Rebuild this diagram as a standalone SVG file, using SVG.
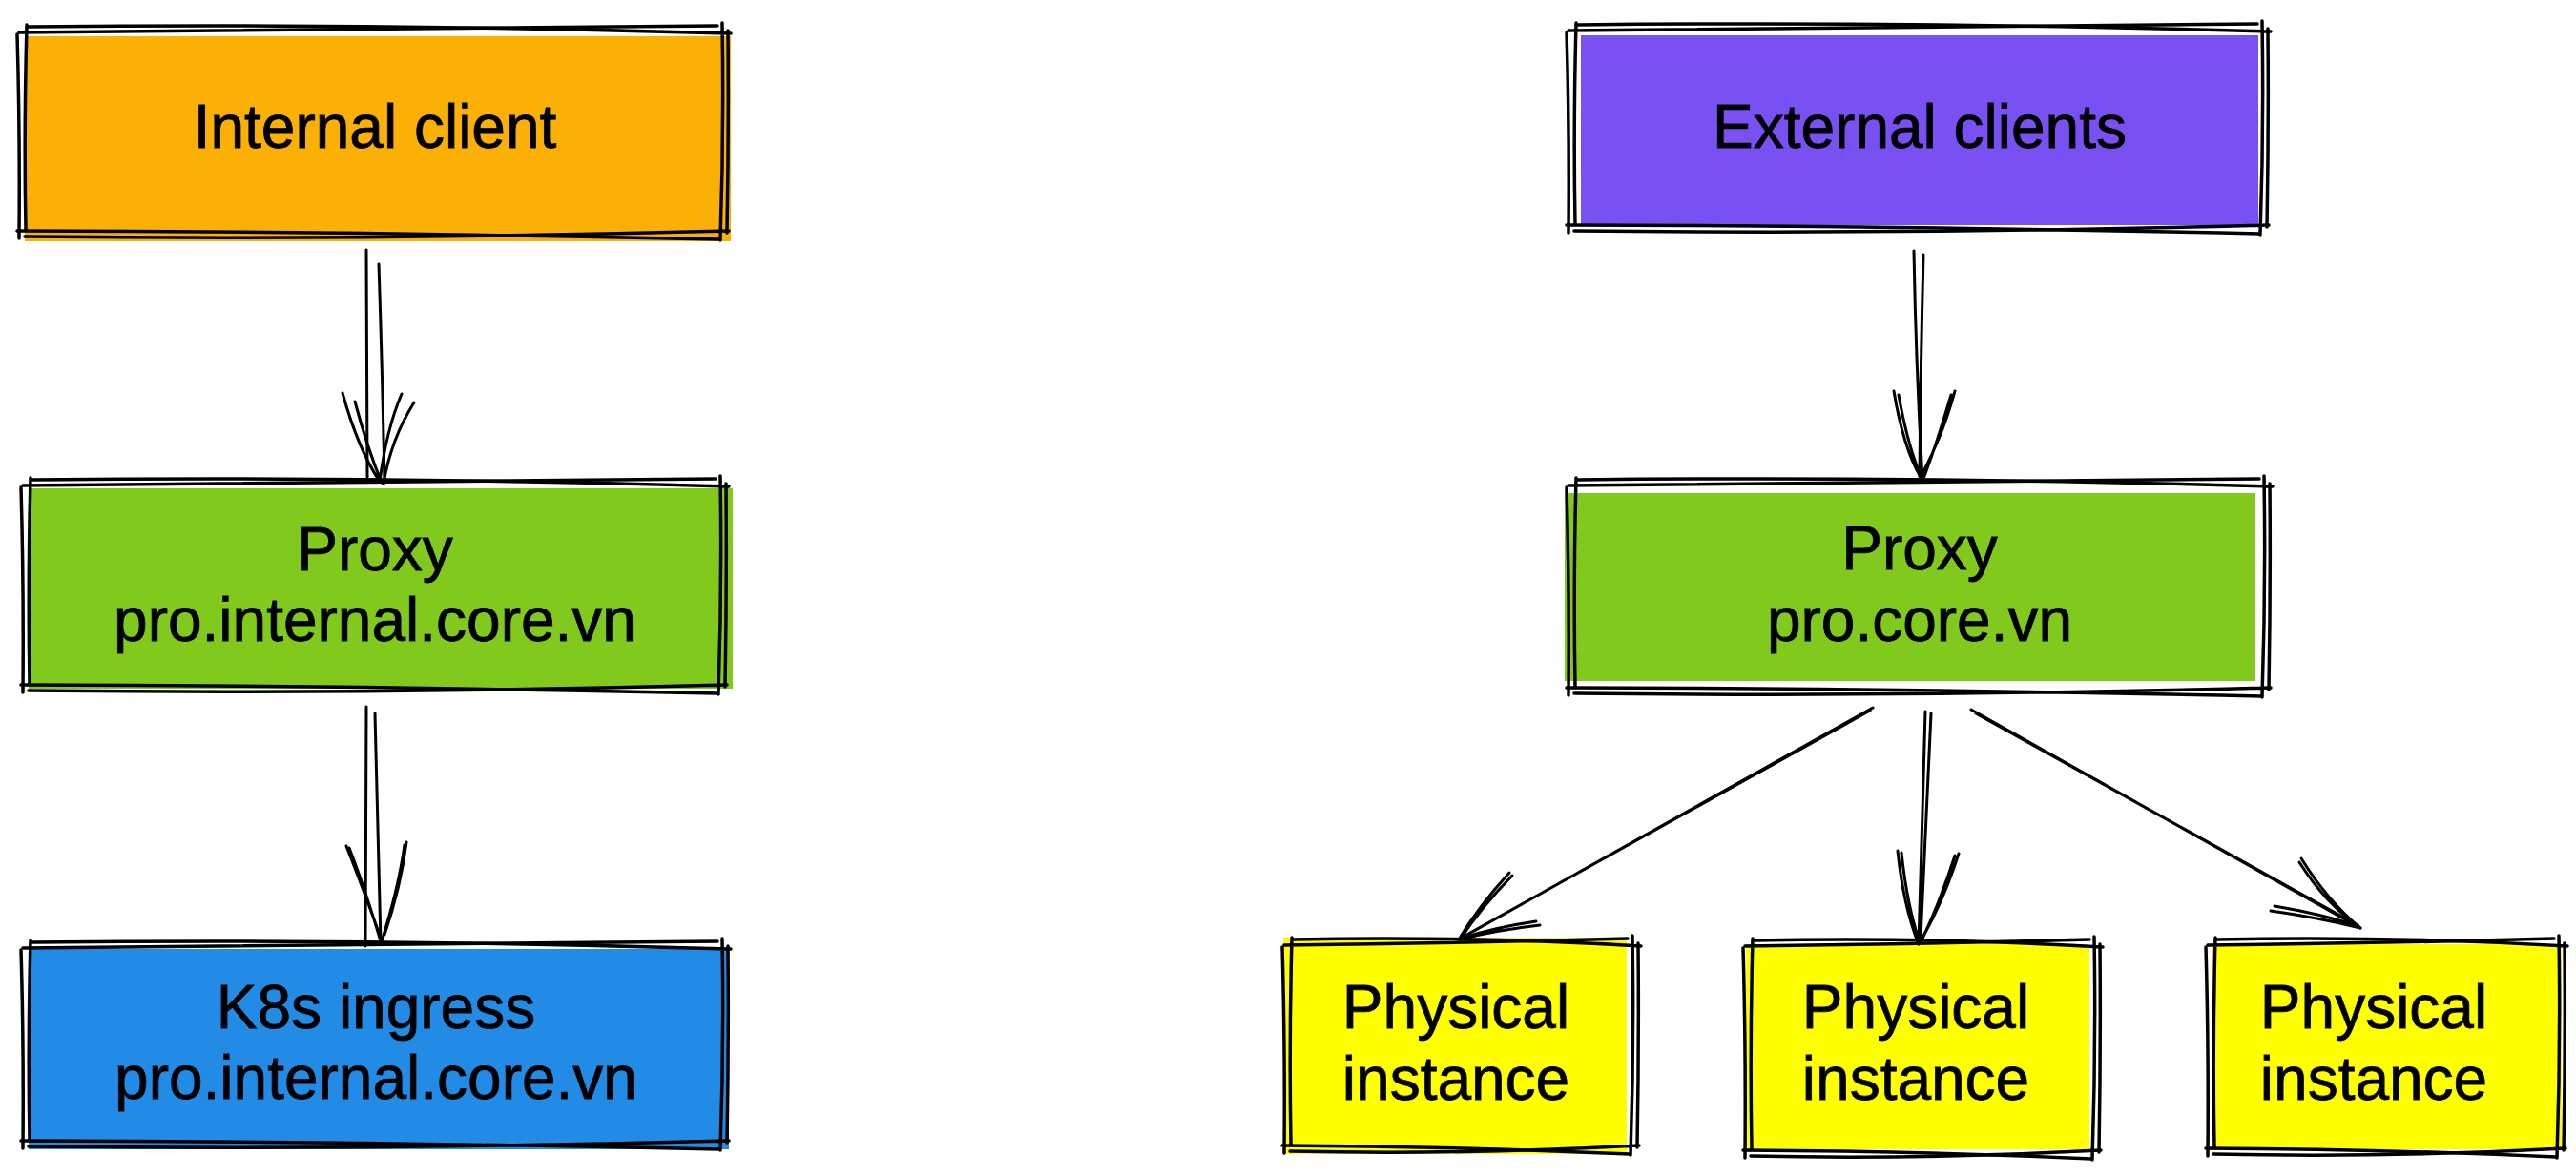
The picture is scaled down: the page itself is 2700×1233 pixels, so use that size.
<svg xmlns="http://www.w3.org/2000/svg" width="2700" height="1233" viewBox="0 0 2700 1233">
<style>
.edge{fill:none;stroke:#000;stroke-width:3.5;stroke-linecap:round;stroke-linejoin:round}
.conn path{fill:none;stroke:#000;stroke-width:3;stroke-linecap:round;stroke-linejoin:round}
.lbl{font-family:"Liberation Sans",Arial,sans-serif;font-size:64px;fill:#000;stroke:#000;stroke-width:0.8;text-anchor:middle}
</style>
<rect width="2700" height="1233" fill="#fff"/>
<g id="internal-client">
<rect x="26" y="38" width="740" height="215" fill="#fab005"/>
<path class="edge" d="M30 28 Q392 24 766 35 M757 24 Q759 138 755 252 M764 242 Q392 252 26 248 M20 250 Q21 138 18 36"/>
<path class="edge" d="M20 34 Q392 32 752 27 M763 32 Q764 138 762 244 M754 251 Q392 243 18 242 M27 240 Q25 138 28 26"/>
<text class="lbl" x="393" y="155">Internal client</text>
</g>
<g id="external-clients">
<rect x="1657" y="37" width="710" height="199" fill="#7950f2"/>
<path class="edge" d="M1654 26 Q2011 22 2380 33 M2371 22 Q2373 134 2369 246 M2378 236 Q2011 246 1650 242 M1644 244 Q1645 134 1642 34"/>
<path class="edge" d="M1644 32 Q2011 30 2366 25 M2377 30 Q2378 134 2376 238 M2368 245 Q2011 237 1642 236 M1651 234 Q1649 134 1652 24"/>
<text class="lbl" x="2012" y="155">External clients</text>
</g>
<g id="proxy-internal">
<rect x="30" y="512" width="738" height="210" fill="#82c91e"/>
<path class="edge" d="M34 503 Q393 499 764 510 M755 499 Q757 614 753 728 M762 718 Q393 728 30 724 M24 726 Q25 614 22 511"/>
<path class="edge" d="M24 509 Q393 507 750 502 M761 507 Q762 614 760 720 M752 727 Q393 719 22 718 M31 716 Q29 614 32 501"/>
<text class="lbl" x="393" y="598">Proxy</text>
<text class="lbl" x="393" y="672">pro.internal.core.vn</text>
</g>
<g id="proxy-external">
<rect x="1640" y="517" width="724" height="197" fill="#82c91e"/>
<path class="edge" d="M1654 503 Q2012 499 2382 510 M2373 499 Q2375 615 2371 731 M2380 721 Q2012 731 1650 727 M1644 729 Q1645 615 1642 511"/>
<path class="edge" d="M1644 509 Q2012 507 2368 502 M2379 507 Q2380 615 2378 723 M2370 730 Q2012 722 1642 721 M1651 719 Q1649 615 1652 501"/>
<text class="lbl" x="2012" y="597">Proxy</text>
<text class="lbl" x="2012" y="672">pro.core.vn</text>
</g>
<g id="k8s-ingress">
<rect x="30" y="995" width="734" height="210" fill="#228be6"/>
<path class="edge" d="M34 988 Q394 984 766 995 M757 984 Q759 1095 755 1206 M764 1196 Q394 1206 30 1202 M24 1204 Q25 1095 22 996"/>
<path class="edge" d="M24 994 Q394 992 752 987 M763 992 Q764 1095 762 1198 M754 1205 Q394 1197 22 1196 M31 1194 Q29 1095 32 986"/>
<text class="lbl" x="394" y="1078">K8s ingress</text>
<text class="lbl" x="394" y="1152">pro.internal.core.vn</text>
</g>
<g id="physical-1">
<rect x="1345" y="983" width="360" height="227" fill="#ffff00"/>
<path class="edge" d="M1356 985 Q1532 981 1720 992 M1711 981 Q1713 1096 1709 1211 M1718 1201 Q1532 1211 1352 1207 M1346 1209 Q1347 1096 1344 993"/>
<path class="edge" d="M1346 991 Q1532 989 1706 984 M1717 989 Q1718 1096 1716 1203 M1708 1210 Q1532 1202 1344 1201 M1353 1199 Q1351 1096 1354 983"/>
<text class="lbl" x="1526" y="1078">Physical</text>
<text class="lbl" x="1526" y="1153">instance</text>
</g>
<g id="physical-2">
<rect x="1830" y="990" width="360" height="215" fill="#ffff00"/>
<path class="edge" d="M1839 986 Q2016 982 2204 993 M2195 982 Q2197 1099 2193 1216 M2202 1206 Q2016 1216 1835 1212 M1829 1214 Q1830 1099 1827 994"/>
<path class="edge" d="M1829 992 Q2016 990 2190 985 M2201 990 Q2202 1099 2200 1208 M2192 1215 Q2016 1207 1827 1206 M1836 1204 Q1834 1099 1837 984"/>
<text class="lbl" x="2008" y="1078">Physical</text>
<text class="lbl" x="2008" y="1153">instance</text>
</g>
<g id="physical-3">
<rect x="2318" y="990" width="367" height="215" fill="#ffff00"/>
<path class="edge" d="M2324 985 Q2502 981 2691 992 M2682 981 Q2684 1098 2680 1214 M2689 1204 Q2502 1214 2320 1210 M2314 1212 Q2315 1098 2312 993"/>
<path class="edge" d="M2314 991 Q2502 989 2677 984 M2688 989 Q2689 1098 2687 1206 M2679 1213 Q2502 1205 2312 1204 M2321 1202 Q2319 1098 2322 983"/>
<text class="lbl" x="2488" y="1078">Physical</text>
<text class="lbl" x="2488" y="1153">instance</text>
</g>
<g id="connectors" class="conn">
<path d="M384 262 L385 500 M397 277 Q401 400 403 506"/>
<path d="M359 412 Q375 470 398 505 M372 421 Q385 470 400 506 M421 413 Q405 450 398 505 M434 422 Q410 460 402 507"/>
<path d="M384 741 L383 992 M393 748 L399 988"/>
<path d="M363 887 Q380 930 400 986 M366 889 Q382 930 399 987 M426 883 Q420 930 403 980 M424 886 Q418 930 400 987"/>
<path d="M2006 263 Q2008 380 2015 503 M2016 267 Q2013 380 2012 500"/>
<path d="M1985 410 Q1995 470 2013 500 M1990 414 Q2000 470 2015 503 M2049 410 Q2035 460 2013 500 M2045 414 Q2030 465 2016 502"/>
<path d="M1963 742 L1529 985 M1960 745 L1532 983"/>
<path d="M1582 915 Q1550 950 1529 985 M1585 918 Q1552 952 1531 984 M1614 970 Q1570 975 1529 985 M1610 966 Q1568 972 1531 984"/>
<path d="M2018 746 L2011 990 M2024 748 L2013 985"/>
<path d="M1989 892 Q1995 950 2011 990 M1993 894 Q1999 950 2012 988 M2053 895 Q2035 950 2011 990 M2049 897 Q2032 950 2013 988"/>
<path d="M2066 744 L2474 973 M2071 748 L2471 970"/>
<path d="M2412 900 Q2440 945 2474 973 M2410 904 Q2438 948 2472 971 M2380 955 Q2430 962 2474 973 M2384 950 Q2432 958 2472 971"/>
</g>
</svg>
